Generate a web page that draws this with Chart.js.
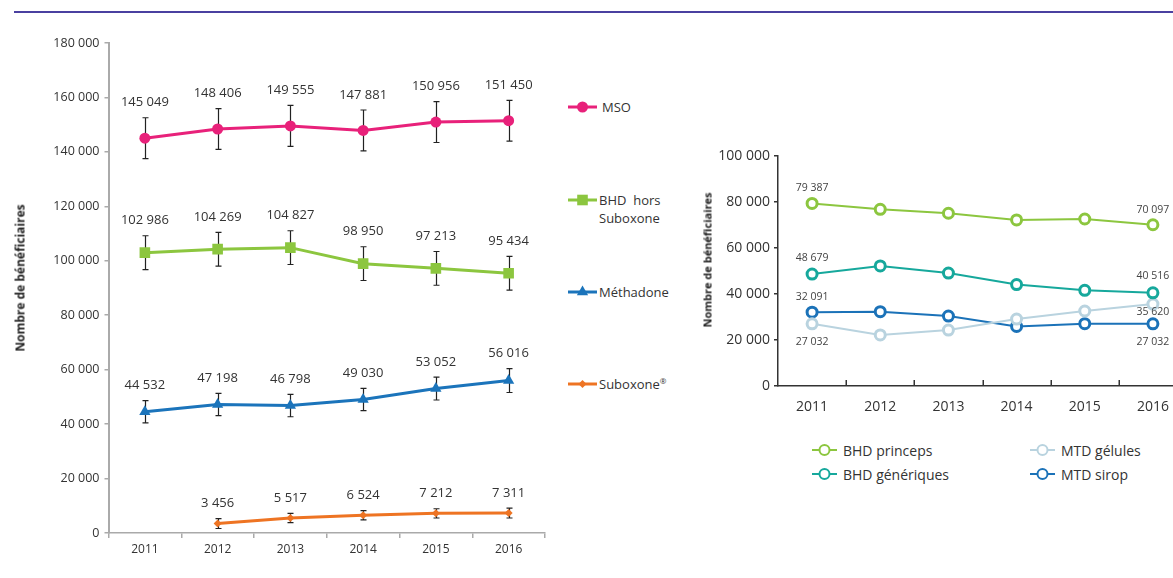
<!DOCTYPE html>
<html><head><meta charset="utf-8">
<script src="https://cdn.jsdelivr.net/npm/chart.js@4.4.1/dist/chart.umd.min.js"></script>
<style>
html,body{margin:0;padding:0;width:1173px;height:578px;overflow:hidden;background:#fff;font-family:"Open Sans",sans-serif;color:#333;}
#topline{position:absolute;left:14px;right:0;top:11px;height:2px;background:#4a40a0;}
.box{position:absolute;}
.ytitle{position:absolute;font-weight:bold;white-space:nowrap;transform:translate(-50%,-50%) rotate(-90deg);color:#222;}
.legtxt{position:absolute;white-space:nowrap;color:#333;}
.legcv{position:absolute;display:block;}
</style></head>
<body>
<div id="topline"></div>
<div class="box" style="left:0;top:0;width:560px;height:578px;"><canvas id="left" width="560" height="578"></canvas></div>
<div class="box" style="left:690px;top:130px;width:510px;height:300px;"><canvas id="right" width="510" height="300"></canvas></div>
<div class="ytitle" style="left:20px;top:278px;font-size:12px;">Nombre de bénéficiaires</div>
<div class="ytitle" style="left:707px;top:260px;font-size:11px;">Nombre de bénéficiaires</div>
<div id="legends"></div>
<script>
// ---------- DATA ----------
const years = ['2011', '2012', '2013', '2014', '2015', '2016'];

// left chart
const msoValues       = [145049, 148406, 149555, 147881, 150956, 151450];
const bhdHorsValues   = [102986, 104269, 104827, 98950, 97213, 95434];
const methadoneValues = [44532, 47198, 46798, 49030, 53052, 56016];
const suboxoneValues  = [null, 3456, 5517, 6524, 7212, 7311];
const msoErrors       = [7500, 7500, 7500, 7500, 7500, 7500];
const bhdHorsErrors   = [6200, 6200, 6200, 6200, 6200, 6200];
const methadoneErrors = [4100, 4100, 4100, 4100, 4200, 4400];
const suboxoneErrors  = [null, 1800, 1700, 1700, 1700, 1800];
const leftYMax = 180000, leftYStep = 20000;

// right chart
const bhdPrincepsValues   = [79387, 76800, 75100, 72200, 72600, 70097];
const bhdGeneriquesValues = [48679, 52200, 49100, 44100, 41600, 40516];
const mtdGelulesValues    = [27032, 22200, 24300, 29100, 32600, 35620];
const mtdSiropValues      = [32091, 32300, 30400, 25900, 27100, 27032];
const rightYMax = 100000, rightYStep = 20000;

// ---------- HELPERS ----------
const fmt = v => String(v).replace(/\B(?=(\d{3})+(?!\d))/g, ' ');
Chart.defaults.font.family = '"Open Sans", sans-serif';
Chart.defaults.color = '#333';
Chart.defaults.animation = false;

const errorBarPlugin = {
  id: 'errorBars',
  beforeDatasetsDraw(chart) {
    const ctx = chart.ctx, xs = chart.scales.x, ys = chart.scales.y;
    ctx.save();
    ctx.strokeStyle = '#222'; ctx.lineWidth = 1.2;
    chart.data.datasets.forEach(ds => {
      if (!ds.errors) return;
      ds.data.forEach((v, i) => {
        const e = ds.errors[i];
        if (v == null || e == null) return;
        const x = Math.round(xs.getPixelForValue(i)) + 0.5;
        const yt = ys.getPixelForValue(v + e), yb = ys.getPixelForValue(v - e);
        ctx.beginPath();
        ctx.moveTo(x, yt); ctx.lineTo(x, yb);
        ctx.moveTo(x - 3, yt); ctx.lineTo(x + 3, yt);
        ctx.moveTo(x - 3, yb); ctx.lineTo(x + 3, yb);
        ctx.stroke();
      });
    });
    ctx.restore();
  },
  afterDatasetsDraw(chart) {
    const ctx = chart.ctx, xs = chart.scales.x, ys = chart.scales.y;
    ctx.save();
    ctx.fillStyle = '#333'; ctx.font = '13px "Open Sans", sans-serif';
    ctx.textAlign = 'center'; ctx.textBaseline = 'middle';
    chart.data.datasets.forEach(ds => {
      if (!ds.errors) return;
      ds.data.forEach((v, i) => {
        if (v == null) return;
        const x = xs.getPixelForValue(i);
        const y = ys.getPixelForValue(v + (ds.errors[i] || 0)) - 15;
        ctx.fillText(fmt(v), x, y);
      });
    });
    ctx.restore();
  }
};

const rightLabelPlugin = {
  id: 'rightLabels',
  afterDatasetsDraw(chart) {
    const ctx = chart.ctx, xs = chart.scales.x, ys = chart.scales.y;
    ctx.save();
    ctx.fillStyle = '#444'; ctx.font = '10.5px "Open Sans", sans-serif';
    ctx.textAlign = 'center'; ctx.textBaseline = 'middle';
    chart.data.datasets.forEach(ds => {
      if (!ds.labelAt) return;
      Object.keys(ds.labelAt).forEach(k => {
        const i = +k, v = ds.data[i];
        ctx.fillText(fmt(v), xs.getPixelForValue(i), ys.getPixelForValue(v) + ds.labelAt[k]);
      });
    });
    ctx.restore();
  },
  afterDraw(chart) {
    const ctx = chart.ctx, xs = chart.scales.x, b = chart.chartArea.bottom;
    ctx.save();
    ctx.strokeStyle = '#333'; ctx.lineWidth = 1.5;
    for (let i = 0; i < years.length - 1; i++) {
      const x = Math.round((xs.getPixelForValue(i) + xs.getPixelForValue(i + 1)) / 2) + 0.25;
      ctx.beginPath(); ctx.moveTo(x, b); ctx.lineTo(x, b - 6); ctx.stroke();
    }
    ctx.restore();
  }
};

// ---------- LEFT CHART ----------
const leftSets = [
  {label: 'MSO', data: msoValues, errors: msoErrors, color: '#e8217a', pointStyle: 'circle', radius: 5.5},
  {label: 'BHD hors Suboxone', data: bhdHorsValues, errors: bhdHorsErrors, color: '#8cc63f', pointStyle: 'rect', radius: 7.5},
  {label: 'Méthadone', data: methadoneValues, errors: methadoneErrors, color: '#1b74bb', pointStyle: 'triangle', radius: 6.5},
  {label: 'Suboxone®', data: suboxoneValues, errors: suboxoneErrors, color: '#ee7423', pointStyle: 'rectRot', radius: 4}
];

new Chart(document.getElementById('left'), {
  type: 'line',
  data: {
    labels: years,
    datasets: leftSets.map(s => ({
      label: s.label, data: s.data, errors: s.errors,
      borderColor: s.color, backgroundColor: s.color, borderWidth: 3,
      pointStyle: s.pointStyle, pointRadius: s.radius, pointBackgroundColor: s.color,
      pointBorderColor: s.color, pointBorderWidth: 0, tension: 0, spanGaps: false
    }))
  },
  options: {
    responsive: false,
    layout: {padding: {top: 43, right: 15, left: 0, bottom: 0}},
    plugins: {legend: {display: false}, tooltip: {enabled: false}},
    scales: {
      x: {
        offset: true,
        grid: {offset: true, drawOnChartArea: false, drawTicks: true, tickLength: 5, color: '#aaa', lineWidth: 1.5},
        border: {color: '#aaa', width: 1.5},
        ticks: {color: '#333', font: {size: 12}, padding: 4, maxRotation: 0, autoSkip: false},
        afterFit(s) { s.height = 45; }
      },
      y: {
        min: 0, max: leftYMax,
        ticks: {stepSize: leftYStep, color: '#333', font: {size: 12.5}, padding: 5, callback: v => fmt(v)},
        grid: {drawOnChartArea: false, tickLength: 4, color: '#aaa', lineWidth: 1.5},
        border: {color: '#aaa', width: 2},
        afterFit(s) { s.width = 108.5; }
      }
    }
  },
  plugins: [errorBarPlugin]
});

// ---------- RIGHT CHART ----------
const rightSets = [
  {label: 'BHD princeps', data: bhdPrincepsValues, color: '#8cc63f', labelAt: {0: -15, 5: -15}},
  {label: 'BHD génériques', data: bhdGeneriquesValues, color: '#16a89c', labelAt: {0: -16, 5: -17}},
  {label: 'MTD gélules', data: mtdGelulesValues, color: '#b9d3df', labelAt: {0: 18, 5: 8}},
  {label: 'MTD sirop', data: mtdSiropValues, color: '#1b72b8', labelAt: {0: -15, 5: 18}}
];

new Chart(document.getElementById('right'), {
  type: 'line',
  data: {
    labels: years,
    datasets: rightSets.map(s => ({
      label: s.label, data: s.data, labelAt: s.labelAt,
      borderColor: s.color, backgroundColor: '#fff', borderWidth: 2,
      pointStyle: 'circle', pointRadius: 5, pointBackgroundColor: '#fff',
      pointBorderColor: s.color, pointBorderWidth: 3, tension: 0
    }))
  },
  options: {
    responsive: false,
    layout: {padding: {top: 26, right: 13, left: 0, bottom: 0}},
    plugins: {legend: {display: false}, tooltip: {enabled: false}},
    scales: {
      x: {
        offset: true,
        grid: {display: false},
        border: {color: '#333', width: 1.5},
        ticks: {color: '#333', font: {size: 14}, padding: 5, maxRotation: 0, autoSkip: false},
        afterFit(s) { s.height = 44; }
      },
      y: {
        min: 0, max: rightYMax,
        ticks: {stepSize: rightYStep, color: '#333', font: {size: 14}, padding: 4, callback: v => fmt(v)},
        grid: {drawOnChartArea: false, tickLength: 4, color: '#333', lineWidth: 1.5},
        border: {color: '#333', width: 1.5},
        afterFit(s) { s.width = 88; }
      }
    }
  },
  plugins: [rightLabelPlugin]
});

// ---------- LEGENDS ----------
const legRoot = document.getElementById('legends');
function addLegend(set, lineX, lineW, cy, textX, fontSize, lineWidth, html, hollow) {
  const cv = document.createElement('canvas');
  cv.width = lineW; cv.height = 18;
  cv.className = 'legcv';
  cv.style.left = lineX + 'px'; cv.style.top = (cy - 9) + 'px';
  legRoot.appendChild(cv);
  const ctx = cv.getContext('2d');
  ctx.strokeStyle = set.color; ctx.lineWidth = lineWidth;
  ctx.beginPath(); ctx.moveTo(0, 9); ctx.lineTo(lineW, 9); ctx.stroke();
  ctx.fillStyle = hollow ? '#fff' : set.color;
  ctx.strokeStyle = set.color;
  Chart.helpers.drawPoint(ctx, {
    pointStyle: set.pointStyle || 'circle', radius: set.radius || 5,
    borderWidth: hollow ? 2.5 : 0, rotation: 0
  }, lineW / 2, 9);
  const t = document.createElement('div');
  t.className = 'legtxt';
  t.style.left = textX + 'px';
  t.style.fontSize = fontSize + 'px';
  t.style.lineHeight = Math.round(fontSize * 1.35) + 'px';
  t.style.top = (cy - Math.round(fontSize * 1.35) / 2) + 'px';
  t.innerHTML = html;
  legRoot.appendChild(t);
}
const leftLegRows = [106.5, 199.5, 291.5, 384];
const leftLegHtml = ['MSO', 'BHD&nbsp; hors<br>Suboxone', 'Méthadone', 'Suboxone<sup style="font-size:8px;line-height:0">®</sup>'];
leftSets.forEach((s, i) => addLegend(s, 568, 29, leftLegRows[i], i === 0 ? 602 : 599, 13, 3, leftLegHtml[i], false));

const rightLegPos = [[812, 450, 843], [812, 474, 843], [1030, 450, 1061], [1030, 474, 1061]];
rightSets.forEach((s, i) => addLegend(s, rightLegPos[i][0], 25, rightLegPos[i][1], rightLegPos[i][2], 14, 2, s.label, true));
</script>
</body></html>
